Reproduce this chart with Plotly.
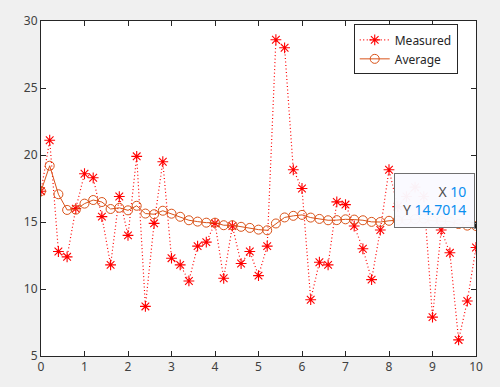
import plotly.graph_objects as go

x_vals = [round(i * 0.2, 1) for i in range(51)]

measured = [17.3, 21.1, 12.8, 12.4, 16.0, 18.6, 18.3, 15.4, 11.8, 16.9,
            14.0, 19.9, 8.7, 14.9, 19.5, 12.3, 11.8, 10.6, 13.2, 13.5,
            14.9, 10.8, 14.7, 11.9, 12.8, 11.0, 13.2, 28.6, 28.0, 18.9,
            17.5, 9.2, 12.0, 11.8, 16.5, 16.3, 14.7, 13.0, 10.7, 14.4,
            18.9, 16.15, 16.9, 17.6, 16.9, 7.9, 14.4, 12.7, 6.2, 9.1, 13.1]

average = [17.30, 19.20, 17.07, 15.90, 15.92, 16.37, 16.64, 16.49, 15.97, 16.06,
           15.87, 16.21, 15.63, 15.58, 15.84, 15.62, 15.39, 15.13, 15.03, 14.95,
           14.95, 14.76, 14.76, 14.64, 14.56, 14.43, 14.38, 14.89, 15.34, 15.46,
           15.53, 15.33, 15.23, 15.13, 15.14, 15.20, 15.18, 15.13, 15.01, 15.00,
           15.09, 15.12, 15.16, 15.21, 15.25, 15.09, 15.08, 15.03, 14.85, 14.73, 14.7014]

x_ticks = list(range(0, 11))
y_ticks = [5, 10, 15, 20, 25, 30]

tip_x = x_vals[-1]
tip_y = average[-1]

RED = "#ff0000"
ORANGE = "#D95319"
AXC = "#262626"
FONT = "Noto Sans"

fig = go.Figure()
fig.add_trace(go.Scatter(
    x=x_vals, y=measured, name="Measured", mode="lines+markers",
    line=dict(color=RED, width=1.2, dash="1px,2.5px"),
    marker=dict(symbol="asterisk-open", size=9, color=RED,
                line=dict(color=RED, width=1.1)),
))
fig.add_trace(go.Scatter(
    x=x_vals, y=average, name="Average", mode="lines+markers",
    line=dict(color=ORANGE, width=1),
    marker=dict(symbol="circle-open", size=9, color=ORANGE,
                line=dict(color=ORANGE, width=1)),
))
fig.add_trace(go.Scatter(
    x=[tip_x], y=[tip_y], mode="markers", showlegend=False,
    marker=dict(symbol="square", size=5, color="#1a1a1a"),
    hoverinfo="skip",
))

fig.add_annotation(
    x=tip_x, y=tip_y, xref="x", yref="y",
    xanchor="right", yanchor="bottom", xshift=-1, yshift=-2,
    showarrow=False, align="right",
    text=("<span style='color:#505050'>X</span> <span style='color:#0a8ff0'>10</span><br>"
          "<span style='color:#505050'>Y</span> <span style='color:#0a8ff0'>"
          + f"{tip_y:.4f}" + "</span>"),
    font=dict(family=FONT, size=14),
    bgcolor="rgba(250,250,255,0.97)", bordercolor="#707070", borderwidth=1,
    borderpad=8,
)

fig.update_layout(
    width=500, height=387,
    paper_bgcolor="#f0f0f0", plot_bgcolor="#ffffff",
    margin=dict(l=41, r=24, t=17, b=27),
    font=dict(family=FONT, size=11, color=AXC),
    showlegend=True,
    legend=dict(
        x=0.958, y=0.99, xanchor="right", yanchor="top",
        bgcolor="#ffffff", bordercolor="#262626", borderwidth=1,
        font=dict(family=FONT, size=12, color=AXC),
        tracegroupgap=0, itemwidth=30,
    ),
)
fig.update_xaxes(
    range=[0, 10], tickvals=x_ticks, ticks="inside", ticklen=5,
    showline=True, mirror="ticks", linecolor=AXC, linewidth=1,
    tickcolor=AXC, showgrid=False, zeroline=False,
    tickfont=dict(family=FONT, size=12, color="#404040"),
)
fig.update_yaxes(
    range=[5, 30], tickvals=y_ticks, ticks="inside", ticklen=5,
    showline=True, mirror="ticks", linecolor=AXC, linewidth=1,
    tickcolor=AXC, showgrid=False, zeroline=False,
    tickfont=dict(family=FONT, size=12, color="#404040"),
)

fig.write_html(
    "out.html",
    config={"displayModeBar": False},
    post_script="document.body.style.margin='0';document.body.style.background='#f0f0f0';",
)
